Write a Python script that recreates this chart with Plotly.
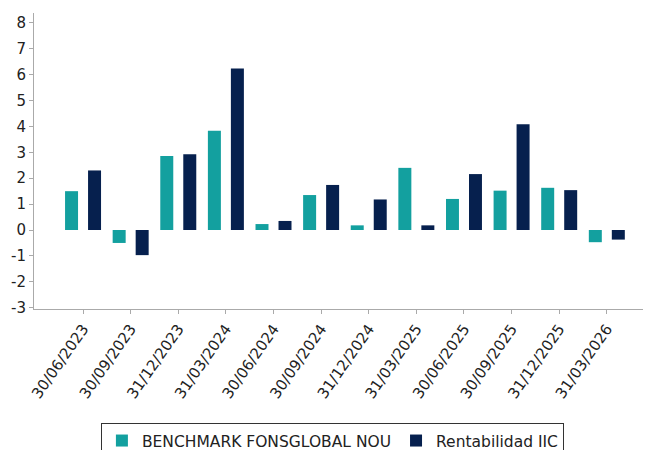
import plotly.graph_objects as go

dates = ["30/06/2023", "30/09/2023", "31/12/2023", "31/03/2024", "30/06/2024", "30/09/2024",
         "31/12/2024", "31/03/2025", "30/06/2025", "30/09/2025", "31/12/2025", "31/03/2026"]
benchmark = [1.5, -0.5, 2.86, 3.83, 0.23, 1.35, 0.18, 2.4, 1.2, 1.52, 1.63, -0.47]
rentabilidad = [2.3, -0.97, 2.93, 6.24, 0.35, 1.74, 1.18, 0.18, 2.16, 4.08, 1.54, -0.37]
y_ticks = list(range(-3, 9))
y_tick_text = [str(v) for v in y_ticks]

fig = go.Figure()
fig.add_trace(go.Bar(x=dates, y=benchmark, name="BENCHMARK FONSGLOBAL NOU",
                     marker=dict(color="#13a09f", line=dict(width=0))))
fig.add_trace(go.Bar(x=dates, y=rentabilidad, name="Rentabilidad IIC",
                     marker=dict(color="#06204e", line=dict(width=0))))

fig.update_layout(
    width=646, height=450,
    margin=dict(l=34, r=3, t=13, b=141, autoexpand=False),
    paper_bgcolor="white", plot_bgcolor="white",
    barmode="group", bargap=0.034, bargroupgap=0.435,
    font=dict(family="DejaVu Sans", size=15, color="#222"),
    showlegend=True,
    legend=dict(orientation="h", x=0.49, xanchor="center", y=-0.385, yanchor="top",
                bordercolor="#333", borderwidth=1, font=dict(size=15.5),
                itemwidth=30, tracegroupgap=0),
    xaxis=dict(type="category", range=[-1.03, 11.76], showline=True, linecolor="#aaa",
               ticks="outside", ticklen=4, tickcolor="#aaa", tickangle=-55,
               tickfont=dict(size=15), showgrid=False, zeroline=False, fixedrange=True,
               automargin=False),
    yaxis=dict(range=[-3.05, 8.38], tickvals=y_ticks, ticktext=y_tick_text, showline=True,
               linecolor="#aaa", ticks="outside", ticklen=4, tickcolor="#aaa", showgrid=False,
               zeroline=False, tickfont=dict(size=15), fixedrange=True, automargin=False),
)

fig.write_html("out.html", config={"displayModeBar": False},
               post_script="document.body.style.margin='0';document.body.style.overflow='hidden';")
